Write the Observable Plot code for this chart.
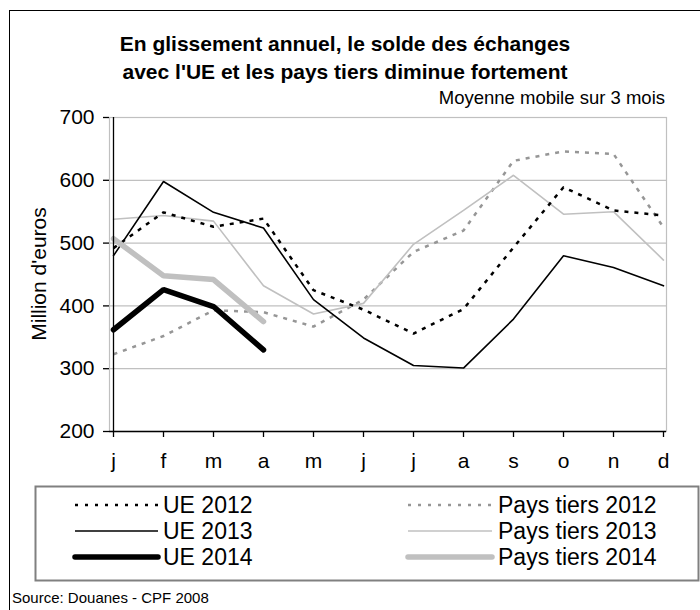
<!DOCTYPE html>
<html>
<head>
<meta charset="utf-8">
<script src="https://cdn.jsdelivr.net/npm/d3@7"></script>
<script src="https://cdn.jsdelivr.net/npm/@observablehq/plot@0.6"></script>
<style>
  html, body { margin: 0; padding: 0; background: #fff; }
  #wrap { position: relative; width: 700px; height: 610px; overflow: hidden; font-family: "Liberation Sans", Arial, sans-serif; }
  #border { position: absolute; left: 9px; top: 10px; width: 760px; height: 700px; border: 1.5px solid #000; box-sizing: border-box; }
  #chart { position: absolute; left: 0; top: 100px; }
  #overlay { position: absolute; left: 0; top: 0; }
</style>
</head>
<body>
<div id="wrap">
  <div id="border"></div>
  <div id="chart"></div>
  <svg id="overlay" width="700" height="610"></svg>
</div>
<script>
// ---- Data ----
const months = ["j","f","m","a","m","j","j","a","s","o","n","d"];
const yTicks = [200, 300, 400, 500, 600, 700];
const gridTicks = [300, 400, 500, 600, 700];

const ue2012 = [492, 549, 526, 539, 425, 394, 356, 395, 493, 589, 552, 544];
const ue2013 = [480, 598, 549, 524, 410, 349, 305, 301, 379, 480, 461, 432];
const ue2014 = [362, 426, 399, 330];
const pt2012 = [323, 352, 393, 390, 367, 410, 486, 520, 631, 646, 642, 525];
const pt2013 = [538, 544, 535, 432, 387, 404, 498, 552, 608, 546, 550, 473];
const pt2014 = [507, 448, 442, 375];

const seriesNames = ["UE 2012", "UE 2013", "UE 2014", "Pays tiers 2012", "Pays tiers 2013", "Pays tiers 2014"];

const styles = {
  "UE 2012":         {stroke: "#000000", strokeWidth: 2.5, strokeDasharray: "4,6", strokeLinecap: "butt"},
  "UE 2013":         {stroke: "#000000", strokeWidth: 1.6},
  "UE 2014":         {stroke: "#000000", strokeWidth: 5.5, strokeLinecap: "round"},
  "Pays tiers 2012": {stroke: "#969696", strokeWidth: 2.5, strokeDasharray: "4,6", strokeLinecap: "butt"},
  "Pays tiers 2013": {stroke: "#c0c0c0", strokeWidth: 1.6},
  "Pays tiers 2014": {stroke: "#c0c0c0", strokeWidth: 5.5, strokeLinecap: "round"}
};
const seriesValues = {
  "UE 2012": ue2012, "UE 2013": ue2013, "UE 2014": ue2014,
  "Pays tiers 2012": pt2012, "Pays tiers 2013": pt2013, "Pays tiers 2014": pt2014
};
const drawOrder = ["Pays tiers 2012", "Pays tiers 2013", "UE 2012", "UE 2013", "Pays tiers 2014", "UE 2014"];

const FONT = '"Liberation Sans", Arial, sans-serif';

const lineMarks = drawOrder.map(name =>
  Plot.line(seriesValues[name].map((v, i) => ({i, v})), {
    x: "i", y: "v", strokeLinejoin: "miter", ...styles[name]
  })
);

const plot = Plot.plot({
  width: 700,
  height: 380,
  marginTop: 17,
  marginBottom: 49,
  marginLeft: 109,
  marginRight: 34,
  style: {fontFamily: FONT, fontSize: "20px", color: "#000", background: "transparent", overflow: "visible"},
  x: {type: "point", domain: d3.range(months.length), padding: 0},
  y: {domain: [200, 700]},
  marks: [
    Plot.ruleY(gridTicks, {stroke: "#c0c0c0", strokeWidth: 1.2}),
    Plot.frame({stroke: "#c0c0c0", strokeWidth: 1.2}),
    ...lineMarks,
    Plot.ruleY([yTicks[0]], {stroke: "#000", strokeWidth: 1.3}),
    Plot.ruleX([0], {stroke: "#000", strokeWidth: 1.3}),
    Plot.axisY({ticks: yTicks, tickSize: 6, tickPadding: 9, label: null, fontSize: 21, stroke: "#000", strokeWidth: 1.3}),
    Plot.axisX({tickSize: 6, tickPadding: 16, label: null, fontSize: 21, tickFormat: i => months[i], stroke: "#000", strokeWidth: 1.3})
  ]
});
document.getElementById("chart").appendChild(plot);

// ---- Texts & legend ----
const svg = d3.select("#overlay").style("font-family", FONT);

svg.append("text").attr("x", 345).attr("y", 51).attr("text-anchor", "middle")
  .attr("font-size", 21).attr("font-weight", "bold").text("En glissement annuel, le solde des échanges");
svg.append("text").attr("x", 345).attr("y", 79).attr("text-anchor", "middle")
  .attr("font-size", 21).attr("font-weight", "bold").text("avec l'UE et les pays tiers diminue fortement");
svg.append("text").attr("x", 665).attr("y", 104).attr("text-anchor", "end")
  .attr("font-size", 18.5).text("Moyenne mobile sur 3 mois");
svg.append("text").attr("transform", "translate(46,274) rotate(-90)").attr("text-anchor", "middle")
  .attr("font-size", 21).text("Million d'euros");
svg.append("text").attr("x", 12).attr("y", 603).attr("font-size", 15).text("Source: Douanes - CPF 2008");

// legend box
svg.append("rect").attr("x", 35.5).attr("y", 486.5).attr("width", 663).attr("height", 94)
  .attr("fill", "none").attr("stroke", "#808080").attr("stroke-width", 2);

const rowsY = [505, 531, 557];
const cols = [{x0: 75, x1: 158, tx: 163}, {x0: 408, x1: 492, tx: 498}];
seriesNames.forEach((name, k) => {
  const c = cols[Math.floor(k / 3)], y = rowsY[k % 3], s = styles[name];
  svg.append("line").attr("x1", c.x0).attr("x2", c.x1).attr("y1", y).attr("y2", y)
    .attr("stroke", s.stroke).attr("stroke-width", s.strokeWidth)
    .attr("stroke-dasharray", s.strokeDasharray ? "3,7" : null)
    .attr("stroke-linecap", s.strokeLinecap || "butt");
  svg.append("text").attr("x", c.tx).attr("y", y).attr("dy", "0.36em")
    .attr("font-size", 23).text(name);
});
</script>
</body>
</html>
